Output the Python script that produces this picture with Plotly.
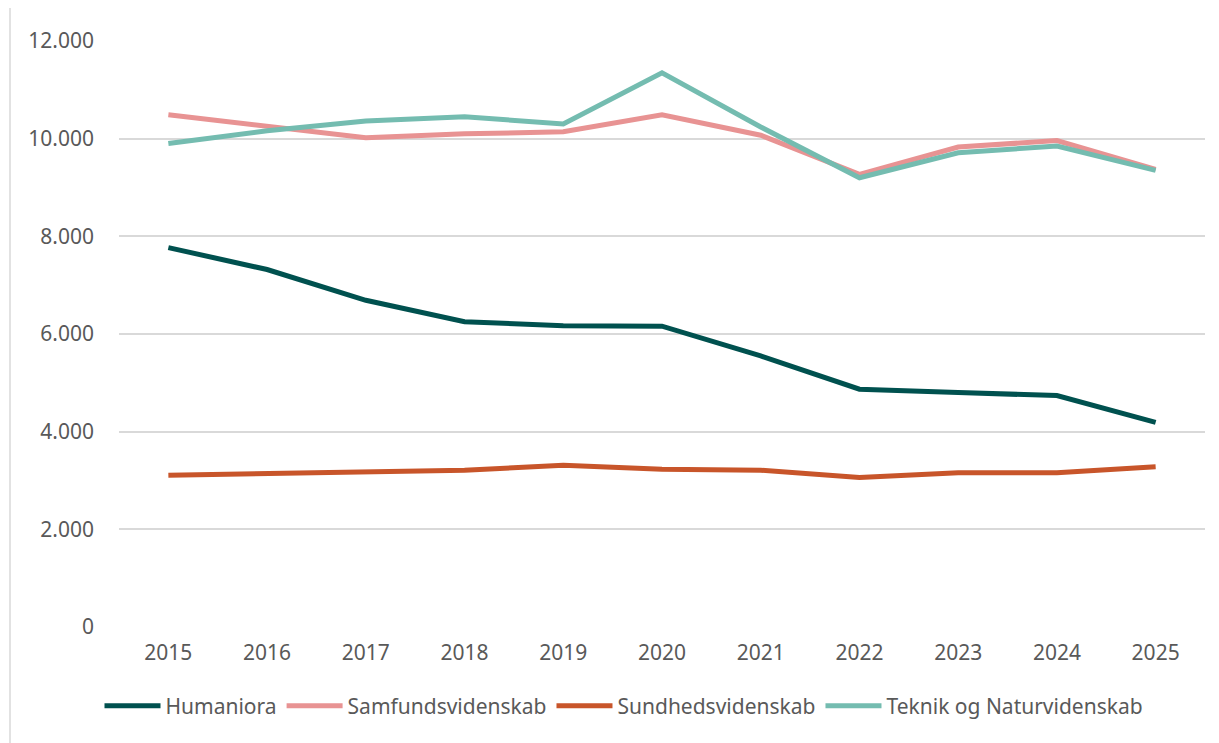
import plotly.graph_objects as go

years = ["2015", "2016", "2017", "2018", "2019", "2020", "2021", "2022", "2023", "2024", "2025"]
humaniora = [7770, 7320, 6690, 6250, 6170, 6160, 5550, 4870, 4800, 4740, 4190]
samfund = [10490, 10260, 10020, 10100, 10140, 10490, 10070, 9270, 9830, 9960, 9370]
sundhed = [3110, 3150, 3180, 3210, 3310, 3230, 3210, 3060, 3160, 3160, 3280]
teknik = [9900, 10160, 10360, 10450, 10300, 11350, 10240, 9200, 9710, 9850, 9350]

series = [
    ("Humaniora", humaniora, "#00514F"),
    ("Samfundsvidenskab", samfund, "#E89393"),
    ("Sundhedsvidenskab", sundhed, "#C8552A"),
    ("Teknik og Naturvidenskab", teknik, "#74BCB0"),
]

fig = go.Figure()
for name, vals, col in series:
    fig.add_trace(go.Scatter(x=years, y=vals, name=name, mode="lines",
                             line=dict(color=col, width=5)))

# page has an 8px body margin
OFF = 8
W, H = 1219, 743
ml, mr, mt, mb = 119 - OFF, 14 + OFF, 41 - OFF, 116 + OFF
pw = W - ml - mr
ph = H - mt - mb
fig.update_layout(
    width=W, height=H,
    margin=dict(l=ml, r=mr, t=mt, b=mb, autoexpand=False),
    paper_bgcolor="white", plot_bgcolor="white",
    separators=",.",
    font=dict(family="Noto Sans", size=21, color="#595959"),
    showlegend=True,
    legend=dict(orientation="h", x=(624 - OFF - ml) / pw, xanchor="center",
                y=(mt + ph - (706 - OFF)) / ph, yanchor="middle",
                font=dict(size=21, color="#595959"), itemwidth=56,
                bgcolor="rgba(0,0,0,0)"),
    xaxis=dict(type="category", range=[-0.5, 10.5], showgrid=False, showline=False,
               ticks="", ticklabelstandoff=11, tickfont=dict(size=21), automargin=False),
    yaxis=dict(range=[0, 12000], dtick=2000, tickformat=",", showgrid=True,
               gridcolor="#D9D9D9", gridwidth=1.5, zeroline=False, showline=False,
               ticks="", ticklabelstandoff=24, tickfont=dict(size=21), automargin=False),
)
fig.add_shape(type="line", xref="paper", yref="paper",
              x0=(10 - OFF - ml) / pw, x1=(10 - OFF - ml) / pw,
              y0=(mt + ph - H) / ph, y1=1 + mt / ph,
              line=dict(color="#D9D9D9", width=1.5))
fig.write_html("out.html")
